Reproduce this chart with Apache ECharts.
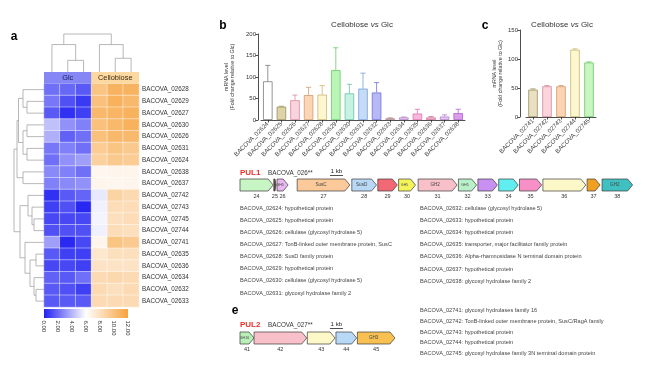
<!DOCTYPE html>
<html><head><meta charset="utf-8">
<script src="https://cdn.jsdelivr.net/npm/echarts@6/dist/echarts.min.js"></script>
<style>html,body{margin:0;padding:0;background:#fff}#c{width:650px;height:376px}</style>
</head><body><div id="c"></div>
<script>
const FONT = '"Liberation Sans", Arial, sans-serif';

// ---------- Panel a: heatmap ----------
const hmRows = ['BACOVA_02628','BACOVA_02629','BACOVA_02627','BACOVA_02630','BACOVA_02626','BACOVA_02631','BACOVA_02624','BACOVA_02638','BACOVA_02637','BACOVA_02742','BACOVA_02743','BACOVA_02745','BACOVA_02744','BACOVA_02741','BACOVA_02635','BACOVA_02636','BACOVA_02634','BACOVA_02632','BACOVA_02633'];
const hmCols = ['Glc-1','Glc-2','Glc-3','Cellobiose-1','Cellobiose-2','Cellobiose-3'];
const hmGroups = ['Glc','Cellobiose'];
const hmGlc = [
 [2.1,1.9,1.5],[2.3,1.25,0.65],[1.5,0.4,0.8],[4.3,3.0,2.55],[3.85,1.7,2.1],[2.3,2.55,2.1],[2.1,3.0,3.4],
 [2.8,2.55,2.1],[2.55,2.8,3.0],[0.4,1.5,1.8],[0.8,1.25,0.15],[1.0,1.0,1.0],[1.25,1.25,1.25],[3.4,0.2,1.0],
 [1.5,0.8,0.8],[1.0,1.0,0.8],[1.7,1.5,2.1],[1.5,1.25,0.8],[1.5,1.5,1.5]];
const hmCello = [
 [9.8,10.9,10.9],[10.0,11.0,10.5],[10.5,10.8,11.0],[10.0,10.5,11.0],[10.0,10.5,10.5],[9.3,9.8,9.5],[9.0,9.5,9.3],
 [6.5,6.6,6.6],[6.6,6.5,6.6],[5.4,8.8,8.4],[5.6,8.2,8.2],[5.7,8.0,8.2],[5.6,8.2,8.0],[6.6,9.8,9.4],
 [7.5,8.0,8.0],[7.8,7.8,7.8],[8.3,8.5,8.3],[8.3,8.0,8.3],[8.3,8.3,8.3]];
const hmColors = ['#2222f2','#ffffff','#f7a23c'];
const cbMin = 0, cbMax = 12, cbStep = 2;
// linkage: [a, b, height]; indices >= n refer to earlier merges
const rowLinkage = [
 [1,2,17],[0,19,21],[3,4,17],[5,6,17],[21,22,21],[20,23,25.5],[7,8,21],[24,25,27],
 [11,12,10],[10,27,12],[9,28,16],[14,15,8],[17,18,8],[16,31,10],[30,32,14],[13,33,19],[29,34,24],[26,35,30]];
const colLinkage = [[1,2,11],[0,6,26],[4,5,13],[3,8,26],[7,9,36]];

// ---------- Panel b ----------
const bGenes = ['BACOVA_02624','BACOVA_02625','BACOVA_02626','BACOVA_02627','BACOVA_02628','BACOVA_02629','BACOVA_02630','BACOVA_02631','BACOVA_02632','BACOVA_02633','BACOVA_02634','BACOVA_02635','BACOVA_02636','BACOVA_02637','BACOVA_02638'];
const bMean = [90,31,46,58,59,116,62,73,64,4,6,15,6,8,16];
const bErrTop = [127,32,58,76,80,168,83,109,87,5,7,25,8,12,25];
const bFill = ['#ffffff','#ddd3a8','#fad4dc','#fcd6b4','#fdf7cf','#b9f5b4','#c6f2e2','#c4dcf8','#b8b8f6','#ead8dc','#eed4ee','#f8b8de','#f4c0d8','#eac8f0','#dc9cec'];
const bEdge = ['#7a7a7a','#9c8f5c','#d48a9a','#d09a6a','#c8b870','#6cc86a','#6cc0a8','#7aa0d8','#7070d8','#b08890','#b080c8','#e070b0','#d07098','#b080d0','#b060d0'];

// ---------- Panel c ----------
const cGenes = ['BACOVA_02741','BACOVA_02742','BACOVA_02743','BACOVA_02744','BACOVA_02745'];
const cMean = [47,53,53,116,94];
const cErrTop = [48.5,54.2,54.2,117.5,95];
const cFill = ['#e9e0c4','#fbd4dc','#fcd4b4','#fdf7d0','#c8f5c0'];
const cEdge = ['#9c8f5c','#d48a9a','#d09a6a','#c8b870','#6cc86a'];

// ---------- Gene clusters (kb) ----------
const pul1Num = [24,25,26,27,28,29,30,31,32,33,34,35,36,37,38];
const pul1Start = [0,2.6,2.85,4.4,8.6,10.6,12.2,13.7,16.8,18.3,19.9,21.5,23.3,26.7,27.85];
const pul1End = [2.55,2.77,3.7,8.45,10.5,12.1,13.5,16.7,18.2,19.8,21.4,23.2,26.6,27.7,30.2];
const pul1Tag = ['','','GH5','SusC','SusD','','GH5','GH2','GH5','','','','','','GH2'];
const pul1Color = ['#c8f5c4','#6b4a3a','#e8b8f0','#fbc99a','#b8d8f5','#f26874','#f4f45a','#f8c0c8','#b8f0c8','#c890f0','#60eef0','#f890c8','#fdf8c8','#f0a020','#40c0c0'];
const pul2Num = [41,42,43,44,45];
const pul2Start = [0,1.08,5.18,7.38,9.03];
const pul2End = [1.08,5.13,7.31,8.97,11.92];
const pul2Tag = ['GH16','','','','GH3'];
const pul2Color = ['#b8f0b8','#f8c0c8','#fdf8c8','#b8d8f8','#f8c050'];
const scaleBarKb = [6.92, 7.92];

const pul1Left = ['BACOVA_02624: hypothetical protein','BACOVA_02625: hypothetical protein','BACOVA_02626: cellulase (glycosyl hydrolase 5)','BACOVA_02627: TonB-linked outer membrane protein, SusC','BACOVA_02628: SusD family protein','BACOVA_02629: hypothetical protein','BACOVA_02630: cellulase (glycosyl hydrolase 5)','BACOVA_02631: glycosyl hydrolase family 2'];
const pul1Right = ['BACOVA_02632: cellulase (glycosyl hydrolase 5)','BACOVA_02633: hypothetical protein','BACOVA_02634: hypothetical protein','BACOVA_02635: transporter, major facilitator family protein','BACOVA_02636: Alpha-rhamnosidase N terminal domain protein','BACOVA_02637: hypothetical protein','BACOVA_02638: glycosyl hydrolase family 2'];
const pul2Desc = ['BACOVA_02741: glycosyl hydrolases family 16','BACOVA_02742: TonB-linked outer membrane protein, SusC/RagA family','BACOVA_02743: hypothetical protein','BACOVA_02744: hypothetical protein','BACOVA_02745: glycosyl hydrolase family 3N terminal domain protein'];

// ---------- build ----------
const chart = echarts.init(document.getElementById('c'), null, {renderer:'canvas'});

const hmData = [];
hmRows.forEach((r, ri) => {
  hmGlc[ri].forEach((v, ci) => hmData.push([ci, ri + 1, v]));
  hmCello[ri].forEach((v, ci) => hmData.push([ci + 3, ri + 1, v]));
});

function linkSegments(n, linkage) {
  const pos = [], ht = [];
  for (let i = 0; i < n; i++) { pos.push(i); ht.push(0); }
  const segs = [];
  linkage.forEach(([a, b, h]) => {
    segs.push([pos[a], ht[a], pos[b], ht[b], h]);
    pos.push((pos[a] + pos[b]) / 2); ht.push(h);
  });
  return segs;
}
const rowSegs = linkSegments(hmRows.length, rowLinkage);
const colSegs = linkSegments(hmCols.length, colLinkage);
const dendroStyle = {stroke:'#9a9a9a', lineWidth:0.7, fill:null};

function hidden(gi, type, min, max, extra) {
  return Object.assign({gridIndex:gi, type:type, min:min, max:max, show:false,
    axisLine:{show:false}, axisTick:{show:false}, axisLabel:{show:false}, splitLine:{show:false}}, extra || {});
}

function errRender(edges) {
  return function (params, api) {
    const i = api.value(0), m = api.value(1), e = api.value(2);
    const p0 = api.coord([i, m]), p1 = api.coord([i, e]);
    const col = edges[params.dataIndex];
    const cap = 2.6;
    return {type:'group', children:[
      {type:'line', shape:{x1:p0[0], y1:p0[1], x2:p1[0], y2:p1[1]}, style:{stroke:col, lineWidth:0.8}},
      {type:'line', shape:{x1:p1[0]-cap, y1:p1[1], x2:p1[0]+cap, y2:p1[1]}, style:{stroke:col, lineWidth:0.8}}
    ]};
  };
}

function geneRender(nums, tags) {
  return function (params, api) {
    const s = api.value(0), e = api.value(1);
    const p0 = api.coord([s, 0.5]), p1 = api.coord([e, 0.5]);
    const h = api.size([0, 1])[1];
    const y0 = p0[1] - h / 2, y1 = p0[1] + h / 2;
    const w = p1[0] - p0[0];
    const head = Math.min(5, w * 0.45);
    const i = params.dataIndex;
    const children = [
      {type:'polygon', shape:{points:[[p0[0],y0],[p1[0]-head,y0],[p1[0],p0[1]],[p1[0]-head,y1],[p0[0],y1]]},
       style:{fill:api.visual('color'), stroke:'#3a3a3a', lineWidth:0.7}},
      {type:'text', x:(p0[0]+p1[0])/2, y:y1+5.5, style:{text:String(nums[i]), align:'center', verticalAlign:'middle', font:'5.5px ' + FONT, fill:'#333'}}
    ];
    if (tags[i]) children.push({type:'text', x:(p0[0]+p1[0]-head)/2, y:p0[1],
      style:{text:tags[i], align:'center', verticalAlign:'middle', font:(w < 20 ? '3.6px ' : '4.6px ') + FONT, fill:'#444'}});
    return {type:'group', children:children};
  };
}

function scaleRender(params, api) {
  const a = api.coord([api.value(0), 1]), b = api.coord([api.value(1), 1]);
  const y = a[1] - 3.5;
  return {type:'group', children:[
    {type:'line', shape:{x1:a[0], y1:y, x2:b[0], y2:y}, style:{stroke:'#222', lineWidth:0.8}},
    {type:'text', x:(a[0]+b[0])/2, y:y-4, style:{text:'1 kb', align:'center', verticalAlign:'middle', font:'6.2px ' + FONT, fill:'#222'}}
  ]};
}

const graphics = [];
function txt(x, y, text, font, fill, align, extra) {
  graphics.push({type:'text', x:x, y:y, style:Object.assign({text:text, font:font, fill:fill||'#222', align:align||'left', verticalAlign:'middle'}, extra||{})});
}
txt(14, 37, 'a', 'bold 12px ' + FONT, '#000', 'center');
txt(223, 26, 'b', 'bold 12px ' + FONT, '#000', 'center');
txt(485, 26, 'c', 'bold 12px ' + FONT, '#000', 'center');
txt(235, 311, 'e', 'bold 12px ' + FONT, '#000', 'center');
const richTitle = {rich:{n:{font:'8px ' + FONT, fill:'#333'}, i:{font:'italic 8px ' + FONT, fill:'#333'}}};
txt(362, 25, '{n|Cellobiose }{i|vs}{n| Glc}', '8px ' + FONT, '#333', 'center', richTitle);
txt(562, 25, '{n|Cellobiose }{i|vs}{n| Glc}', '8px ' + FONT, '#333', 'center', richTitle);
txt(240, 173, 'PUL1', 'bold 8px ' + FONT, '#e8302c');
txt(268, 173, 'BACOVA_026**', '6.3px ' + FONT, '#333');
txt(240, 325, 'PUL2', 'bold 8px ' + FONT, '#e8302c');
txt(268, 325, 'BACOVA_027**', '6.3px ' + FONT, '#333');
pul1Left.forEach((t, i) => txt(240, 208 + i * 12.15, t, '5.6px ' + FONT, '#444'));
pul1Right.forEach((t, i) => txt(420, 208 + i * 12.2, t, '5.6px ' + FONT, '#444'));
pul2Desc.forEach((t, i) => txt(420, 310.7 + i * 10.7, t, '5.6px ' + FONT, '#444'));

const barAxisX = (gi, data) => ({gridIndex:gi, type:'category', data:data,
  axisLine:{show:true, lineStyle:{color:'#222', width:0.8}},
  axisTick:{show:true, alignWithLabel:true, length:2.5, lineStyle:{color:'#222', width:0.8}},
  axisLabel:{rotate:45, fontSize:6.2, margin:3, color:'#444', fontFamily:FONT, interval:0},
  splitLine:{show:false}});
const barAxisY = (gi, max, offset, gap) => ({gridIndex:gi, type:'value', min:0, max:max, interval:50, offset:offset,
  axisLine:{show:true, lineStyle:{color:'#222', width:0.8}},
  axisTick:{show:true, length:2.5, lineStyle:{color:'#222', width:0.8}},
  axisLabel:{fontSize:6, margin:2, color:'#333', fontFamily:FONT},
  splitLine:{show:false},
  name:'mRNA level\n(Fold change relative to Glc)', nameLocation:'middle', nameRotate:90, nameGap:gap,
  nameTextStyle:{fontSize:5.3, lineHeight:6.6, color:'#333', fontFamily:FONT}});

const option = {
  animation:false,
  backgroundColor:'#fff',
  textStyle:{fontFamily:FONT},
  grid:[
    {left:44, top:72, width:95, height:235, outerBoundsMode:'none'},
    {left:44, top:34, width:95, height:38, outerBoundsMode:'none'},
    {left:14, top:83.75, width:30, height:223.25, outerBoundsMode:'none'},
    {left:44, top:309, width:84, height:9, outerBoundsMode:'none'},
    {left:261, top:34, width:204, height:86, outerBoundsMode:'none'},
    {left:526, top:30, width:70, height:87, outerBoundsMode:'none'},
    {left:240, top:179, width:390, height:12, outerBoundsMode:'none'},
    {left:240, top:332, width:390, height:12, outerBoundsMode:'none'}
  ],
  xAxis:[
    {gridIndex:0, type:'category', data:hmCols, show:false},
    hidden(1, 'value', -0.5, 5.5),
    hidden(2, 'value', 0, 30, {inverse:true}),
    {gridIndex:3, type:'value', min:cbMin, max:cbMax, interval:cbStep, position:'bottom',
      axisLine:{show:false}, axisTick:{show:false}, splitLine:{show:false},
      axisLabel:{rotate:-90, fontSize:6, margin:2.5, color:'#333', fontFamily:FONT, formatter:v => v.toFixed(2)}},
    barAxisX(4, bGenes),
    barAxisX(5, cGenes),
    hidden(6, 'value', 0, 30),
    hidden(7, 'value', 0, 30)
  ],
  yAxis:[
    {gridIndex:0, type:'category', data:[''].concat(hmRows), inverse:true, position:'right',
      axisLine:{show:false}, axisTick:{show:false}, splitLine:{show:false},
      axisLabel:{fontSize:6.3, margin:3, color:'#333', fontFamily:FONT, interval:0}},
    hidden(1, 'value', 0, 36),
    hidden(2, 'value', -0.5, hmRows.length - 0.5, {inverse:true}),
    hidden(3, 'value', 0, 1),
    barAxisY(4, 200, 3, 22),
    barAxisY(5, 150, 6, 15),
    hidden(6, 'value', 0, 1),
    hidden(7, 'value', 0, 1)
  ],
  visualMap:{show:false, type:'continuous', seriesIndex:0, dimension:2, min:cbMin, max:cbMax, inRange:{color:hmColors}},
  graphic:graphics,
  series:[
    {type:'heatmap', xAxisIndex:0, yAxisIndex:0, data:hmData, itemStyle:{borderColor:'rgba(255,255,255,0.75)', borderWidth:0.6},
      emphasis:{disabled:true}, label:{show:false}},
    {type:'custom', xAxisIndex:0, yAxisIndex:0, data:[[0,0],[3,0]], clip:false, silent:true,
      renderItem:function (params, api) {
        const p = api.coord([api.value(0), 0]);
        const sz = api.size([1, 1]);
        const i = params.dataIndex;
        return {type:'group', children:[
          {type:'rect', shape:{x:p[0]-sz[0]/2, y:p[1]-sz[1]/2, width:sz[0]*3, height:sz[1]},
            style:{fill: i === 0 ? '#8686f4' : '#fdd8a0'}},
          {type:'text', x:p[0]+sz[0], y:p[1], style:{text:hmGroups[i], align:'center', verticalAlign:'middle',
            font:'7.4px ' + FONT, fill: i === 0 ? '#1a1a5a' : '#3a2a10'}}
        ]};
      }},
    {type:'custom', xAxisIndex:1, yAxisIndex:1, data:colSegs, clip:false, silent:true,
      renderItem:function (params, api) {
        const [pa, ha, pb, hb, h] = [0,1,2,3,4].map(k => api.value(k));
        const pts = [api.coord([pa, ha]), api.coord([pa, h]), api.coord([pb, h]), api.coord([pb, hb])];
        return {type:'polyline', shape:{points:pts}, style:dendroStyle};
      }},
    {type:'custom', xAxisIndex:2, yAxisIndex:2, data:rowSegs, clip:false, silent:true,
      renderItem:function (params, api) {
        const [pa, ha, pb, hb, h] = [0,1,2,3,4].map(k => api.value(k));
        const pts = [api.coord([ha, pa]), api.coord([h, pa]), api.coord([h, pb]), api.coord([hb, pb])];
        return {type:'polyline', shape:{points:pts}, style:dendroStyle};
      }},
    {type:'custom', xAxisIndex:3, yAxisIndex:3, data:[[cbMin, cbMax]], clip:false, silent:true,
      renderItem:function (params, api) {
        const a = api.coord([api.value(0), 1]), b = api.coord([api.value(1), 0]);
        return {type:'rect', shape:{x:a[0], y:a[1], width:b[0]-a[0], height:b[1]-a[1]},
          style:{fill:new echarts.graphic.LinearGradient(0, 0, 1, 0,
            hmColors.map((c, k) => ({offset:k / (hmColors.length - 1), color:c})))}};
      }},
    {type:'bar', xAxisIndex:4, yAxisIndex:4, barWidth:9.5, silent:true,
      data:bMean.map((v, i) => ({value:v, itemStyle:{color:bFill[i], borderColor:bEdge[i], borderWidth:0.8}}))},
    {type:'custom', xAxisIndex:4, yAxisIndex:4, clip:false, silent:true,
      data:bMean.map((v, i) => [i, v, bErrTop[i]]), renderItem:errRender(bEdge), z:3},
    {type:'bar', xAxisIndex:5, yAxisIndex:5, barWidth:9.5, silent:true,
      data:cMean.map((v, i) => ({value:v, itemStyle:{color:cFill[i], borderColor:cEdge[i], borderWidth:0.8}}))},
    {type:'custom', xAxisIndex:5, yAxisIndex:5, clip:false, silent:true,
      data:cMean.map((v, i) => [i, v, cErrTop[i]]), renderItem:errRender(cEdge), z:3},
    {type:'custom', xAxisIndex:6, yAxisIndex:6, clip:false, silent:true,
      data:pul1Start.map((s, i) => ({value:[s, pul1End[i]], itemStyle:{color:pul1Color[i]}})),
      renderItem:geneRender(pul1Num, pul1Tag)},
    {type:'custom', xAxisIndex:6, yAxisIndex:6, clip:false, silent:true, data:[scaleBarKb], renderItem:scaleRender},
    {type:'custom', xAxisIndex:7, yAxisIndex:7, clip:false, silent:true,
      data:pul2Start.map((s, i) => ({value:[s, pul2End[i]], itemStyle:{color:pul2Color[i]}})),
      renderItem:geneRender(pul2Num, pul2Tag)},
    {type:'custom', xAxisIndex:7, yAxisIndex:7, clip:false, silent:true, data:[scaleBarKb], renderItem:scaleRender}
  ]
};
chart.setOption(option);
</script>
</body></html>
